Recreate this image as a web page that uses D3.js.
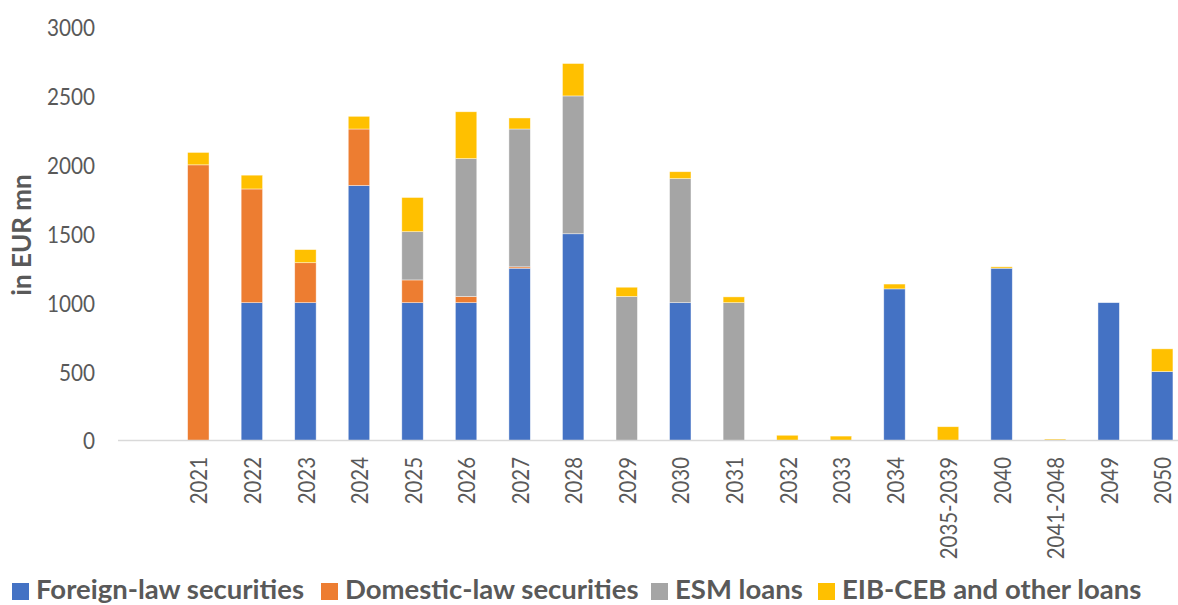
<!DOCTYPE html>
<html>
<head>
<meta charset="utf-8">
<script src="https://cdnjs.cloudflare.com/ajax/libs/d3/7.8.5/d3.min.js"></script>
<style>
  html, body { margin: 0; padding: 0; background: #fff; }
  svg { display: block; }
</style>
</head>
<body>
<svg id="chart" width="1178" height="605"></svg>
<script>
// ---- data ----
const categories = ["", "2021", "2022", "2023", "2024", "2025", "2026", "2027", "2028", "2029", "2030",
  "2031", "2032", "2033", "2034", "2035-2039", "2040", "2041-2048", "2049", "2050"];
const foreignLaw  = [0, 0, 1000, 1000, 1850, 1000, 1000, 1250, 1500, 0, 1000, 0, 0, 0, 1100, 0, 1250, 0, 1000, 500];
const domesticLaw = [0, 2000, 825, 290, 410, 165, 45, 10, 0, 0, 0, 0, 0, 0, 0, 0, 0, 0, 0, 0];
const esmLoans    = [0, 0, 0, 0, 0, 350, 1000, 1000, 1000, 1045, 900, 1000, 0, 0, 0, 0, 0, 0, 0, 0];
const eibLoans    = [0, 90, 100, 95, 92, 248, 340, 80, 235, 67, 50, 42, 38, 32, 35, 100, 10, 10, 0, 165];
const seriesNames = ["Foreign-law securities", "Domestic-law securities", "ESM loans", "EIB-CEB and other loans"];
const seriesColors = ["#4472C4", "#ED7D31", "#A5A5A5", "#FFC000"];
const yTicks = [0, 500, 1000, 1500, 2000, 2500, 3000];

const keys = ["foreign", "domestic", "esm", "eib"];
const rows = categories.map((c, i) => ({
  cat: c, foreign: foreignLaw[i], domestic: domesticLaw[i], esm: esmLoans[i], eib: eibLoans[i]
}));

const svg = d3.select("#chart");
const FONT = "Lato, 'Open Sans', sans-serif";

const x = d3.scaleBand().domain(categories).range([118, 1189]).paddingInner(0.6).paddingOuter(0.3);
const y = d3.scaleLinear().domain([0, 3000]).range([440.5, 27]);

const stack = d3.stack().keys(keys)(rows);

// bars
svg.append("g").selectAll("g").data(stack).join("g")
  .attr("fill", (d, i) => seriesColors[i])
  .selectAll("rect").data(d => d).join("rect")
  .attr("x", d => x(d.data.cat))
  .attr("width", x.bandwidth())
  .attr("y", d => y(d[1]))
  .attr("height", d => Math.max(0, y(d[0]) - y(d[1])))
  .attr("stroke", "#ffffff")
  .attr("stroke-opacity", 0.6)
  .attr("stroke-width", 0.7);

// baseline axis
svg.append("line")
  .attr("x1", 118).attr("x2", 1178)
  .attr("y1", y(0)).attr("y2", y(0))
  .attr("stroke", "#d9d9d9").attr("stroke-width", 1.5);

// y ticks
svg.append("g").selectAll("text").data(yTicks).join("text")
  .attr("transform", d => `translate(95,${y(d)}) scale(0.9,1)`)
  .attr("text-anchor", "end")
  .attr("dominant-baseline", "central")
  .attr("font-family", FONT)
  .attr("font-size", 23)
  .attr("fill", "#595959")
  .text(d => d);

// x tick labels
svg.append("g").selectAll("text").data(categories.filter(c => c !== "")).join("text")
  .attr("transform", d => `translate(${x(d) + x.bandwidth() / 2},457) rotate(-90) scale(0.85,1)`)
  .attr("text-anchor", "end")
  .attr("dominant-baseline", "central")
  .attr("font-family", FONT)
  .attr("font-size", 24)
  .attr("fill", "#595959")
  .text(d => d);

// y axis title
svg.append("text")
  .attr("transform", "translate(31,235) rotate(-90)")
  .attr("text-anchor", "middle")
  .attr("font-family", FONT)
  .attr("font-weight", "bold")
  .attr("font-size", 26)
  .attr("fill", "#595959")
  .text("in EUR mn");

// legend
const legendSwatchX = [12, 321, 651, 818];
const legend = svg.append("g");
seriesNames.forEach((name, i) => {
  legend.append("rect")
    .attr("x", legendSwatchX[i]).attr("y", 583)
    .attr("width", 17).attr("height", 17)
    .attr("fill", seriesColors[i]);
  legend.append("text")
    .attr("x", legendSwatchX[i] + 24)
    .attr("y", 599)
    .attr("font-family", FONT)
    .attr("font-weight", "bold")
    .attr("font-size", 27.5)
    .attr("fill", "#595959")
    .text(name);
});
</script>
</body>
</html>
